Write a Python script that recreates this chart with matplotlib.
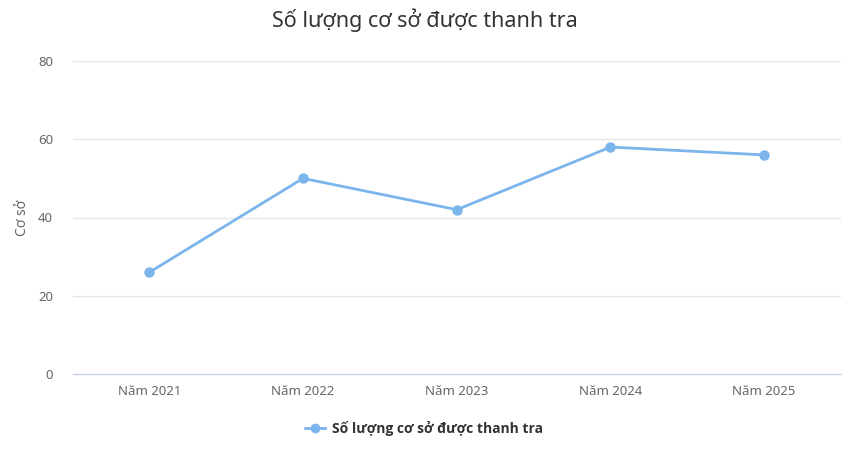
import matplotlib
matplotlib.use("Agg")
import matplotlib.pyplot as plt
from matplotlib.lines import Line2D

plt.rcParams['font.family'] = ['Noto Sans', 'DejaVu Sans']

categories = ["Năm 2021", "Năm 2022", "Năm 2023", "Năm 2024", "Năm 2025"]
values = [26, 50, 42, 58, 56]
series_name = "Số lượng cơ sở được thanh tra"
title = "Số lượng cơ sở được thanh tra"
y_label = "Cơ sở"
y_ticks = [0, 20, 40, 60, 80]

W, H = 858, 450
fig = plt.figure(figsize=(W / 100, H / 100), dpi=100)
left, right = 72.5 / W, 841 / W
top, bottom = 1 - 61 / H, 1 - 374 / H
ax = fig.add_axes([left, bottom, right - left, top - bottom])

x = list(range(len(categories)))
ax.plot(x, values, color="#7cb5ec", lw=2, marker="o", ms=6.5, zorder=3, clip_on=False)
ax.set_xlim(-0.5, len(categories) - 0.5)
ax.set_ylim(0, 80)
ax.set_yticks(y_ticks)
ax.set_xticks(x)
ax.set_xticklabels(categories)
ax.grid(axis="y", color="#e6e6e6", lw=1)
ax.set_axisbelow(True)
for s in ["top", "right", "left"]:
    ax.spines[s].set_visible(False)
ax.spines["bottom"].set_color("#ccd6eb")
ax.spines["bottom"].set_linewidth(1)
ax.tick_params(axis="y", length=0, pad=14, labelsize=9.5, labelcolor="#666666")
ax.tick_params(axis="x", length=0, pad=8, labelsize=9.5, labelcolor="#666666")
ax.yaxis.set_label_coords(-(72.5 - 22) / (841 - 72.5), 0.5)
ax.set_ylabel(y_label, fontsize=10, color="#666666", va="center")

fig.text(425 / W, 1 - 20 / H, title, ha="center", va="center", fontsize=15.5, color="#333333")

handle = Line2D([], [], color="#7cb5ec", lw=2, marker="o", ms=6)
fig.legend([handle], [series_name], loc="center", bbox_to_anchor=(424 / W, 1 - 428 / H),
           frameon=False, prop={"family": "Open Sans", "size": 10, "weight": "bold"},
           labelcolor="#333333", handlelength=1.4, handletextpad=0.5)

fig.savefig("out.png", dpi=100)
